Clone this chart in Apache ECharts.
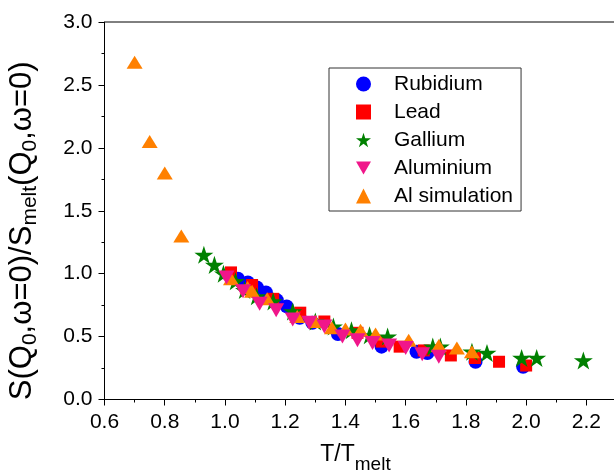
<!DOCTYPE html>
<html>
<head>
<meta charset="utf-8">
<script src="https://cdn.jsdelivr.net/npm/echarts@6/dist/echarts.min.js"></script>
<style>
  html, body { margin: 0; padding: 0; background: #fff; }
  #chart { width: 614px; height: 473px; }
</style>
</head>
<body>
<div id="chart"></div>
<script>
// T/Tmelt and S(Q0,w=0)/Smelt values
var rbT = [1.013, 1.043, 1.076, 1.106, 1.136, 1.172, 1.205, 1.248, 1.29, 1.375, 1.52, 1.636, 1.672, 1.832, 1.99];
var rbS = [0.99, 0.96, 0.93, 0.89, 0.85, 0.79, 0.74, 0.65, 0.61, 0.52, 0.42, 0.38, 0.37, 0.30, 0.26];

var pbT = [1.02, 1.09, 1.16, 1.25, 1.33, 1.44, 1.52, 1.58, 1.66, 1.75, 1.83, 1.91, 2.0];
var pbS = [1.01, 0.91, 0.80, 0.69, 0.62, 0.53, 0.46, 0.42, 0.39, 0.35, 0.33, 0.30, 0.27];

var gaT = [0.93, 0.965, 0.995, 1.035, 1.065, 1.105, 1.16, 1.225, 1.30, 1.36, 1.42, 1.48, 1.54, 1.69, 1.715, 1.82, 1.87, 1.985, 2.035, 2.19];
var gaS = [1.15, 1.07, 1.00, 0.94, 0.87, 0.82, 0.78, 0.70, 0.62, 0.58, 0.55, 0.51, 0.50, 0.42, 0.42, 0.38, 0.37, 0.33, 0.33, 0.31];

var alT = [1.005, 1.06, 1.115, 1.17, 1.225, 1.28, 1.33, 1.39, 1.44, 1.49, 1.545, 1.60, 1.655, 1.71];
var alS = [0.97, 0.86, 0.76, 0.71, 0.635, 0.61, 0.58, 0.50, 0.47, 0.45, 0.43, 0.41, 0.36, 0.34];

var simT = [0.70, 0.75, 0.80, 0.855, 1.02, 1.075, 1.09, 1.14, 1.24, 1.30, 1.355, 1.40, 1.45, 1.50, 1.61, 1.71, 1.77, 1.82];
var simS = [2.68, 2.05, 1.80, 1.30, 0.96, 0.89, 0.86, 0.80, 0.66, 0.62, 0.57, 0.56, 0.55, 0.52, 0.47, 0.43, 0.41, 0.38];

var names = ['Rubidium', 'Lead', 'Gallium', 'Aluminium', 'Al simulation'];

function pairs(xs, ys) {
  return xs.map(function (x, i) { return [x, ys[i]]; });
}

var starPath = 'path://M100 0 L122.45 69.1 L195.1 69.1 L136.3 111.8 L158.8 180.9 L100 138.2 L41.2 180.9 L63.7 111.8 L4.9 69.1 L77.55 69.1 Z';
var downTri = 'path://M0 0 L100 0 L50 87 Z';
var font = 'Liberation Sans, Arial, sans-serif';

var chart = echarts.init(document.getElementById('chart'));
chart.setOption({
  animation: false,
  grid: {
    left: 104.5,
    top: 22,
    width: 512,
    height: 377.5,
    outerBoundsMode: 'none',
    containLabel: false,
    show: true,
    borderColor: '#000',
    borderWidth: 1
  },
  legend: {
    orient: 'vertical',
    left: 329,
    top: 68,
    data: names,
    itemWidth: 15,
    itemHeight: 15,
    itemGap: 6,
    padding: [5, 8, 4, 27],
    borderColor: '#333',
    borderWidth: 1,
    textStyle: { fontFamily: font, fontSize: 21, color: '#000', lineHeight: 22, padding: [0, 0, 0, 18] }
  },
  xAxis: [{
    type: 'value',
    min: 0.6,
    max: 2.3,
    interval: 0.2,
    splitLine: { show: false },
    axisLine: { lineStyle: { color: '#000' } },
    axisTick: { length: 6, lineStyle: { color: '#000' } },
    axisLabel: {
      fontFamily: font, fontSize: 21, color: '#000', margin: 12,
      formatter: function (v) { return v > 2.25 ? '' : v.toFixed(1); }
    },
    name: '{a|T/T}{s|melt}',
    nameLocation: 'middle',
    nameGap: 36,
    nameTextStyle: {
      padding: [0, 0, 0, -10],
      rich: {
        a: { fontFamily: font, fontSize: 23, color: '#000' },
        s: { fontFamily: font, fontSize: 19, color: '#000', padding: [20, 0, 0, 0] }
      }
    }
  }, {
    type: 'value',
    min: 0.6,
    max: 2.3,
    interval: 0.1,
    position: 'bottom',
    splitLine: { show: false },
    axisLine: { show: false },
    axisTick: { length: 3, lineStyle: { color: '#000' } },
    axisLabel: { show: false }
  }],
  yAxis: {
    type: 'value',
    min: 0,
    max: 3,
    interval: 0.5,
    splitLine: { show: false },
    axisLine: { show: true, lineStyle: { color: '#000' } },
    axisTick: { show: true, length: 6, lineStyle: { color: '#000' } },
    minorTick: { show: true, splitNumber: 2, length: 3, lineStyle: { color: '#000' } },
    axisLabel: {
      fontFamily: font, fontSize: 21, color: '#000', margin: 12,
      formatter: function (v) { return v.toFixed(1); }
    },
    name: '{a|S(Q}{s|0}{a|,ω=0)/S}{s|melt}{a|(Q}{s|0}{a|,ω=0)}',
    nameLocation: 'middle',
    nameRotate: 90,
    nameGap: 64,
    nameTextStyle: {
      padding: [0, 40, 0, 0],
      rich: {
        a: { fontFamily: font, fontSize: 31, color: '#000' },
        s: { fontFamily: font, fontSize: 21, color: '#000', padding: [15, 0, 0, 0] }
      }
    }
  },
  series: [{
    name: names[0],
    type: 'scatter',
    symbol: 'circle',
    symbolSize: 14,
    itemStyle: { color: '#0000FF', opacity: 1 },
    data: pairs(rbT, rbS)
  }, {
    name: names[1],
    type: 'scatter',
    symbol: 'rect',
    symbolSize: 12,
    itemStyle: { color: '#FF0000', opacity: 1 },
    data: pairs(pbT, pbS)
  }, {
    name: names[2],
    type: 'scatter',
    symbol: starPath,
    symbolSize: 19,
    symbolKeepAspect: true,
    itemStyle: { color: '#008000', opacity: 1 },
    data: pairs(gaT, gaS)
  }, {
    name: names[3],
    type: 'scatter',
    symbol: downTri,
    symbolSize: [16, 14],
    z: 3,
    itemStyle: { color: '#F0168A', opacity: 1 },
    data: pairs(alT, alS)
  }, {
    name: names[4],
    type: 'scatter',
    symbol: 'triangle',
    symbolSize: [16, 13],
    itemStyle: { color: '#FF8000', opacity: 1 },
    data: pairs(simT, simS)
  }]
});
</script>
</body>
</html>
